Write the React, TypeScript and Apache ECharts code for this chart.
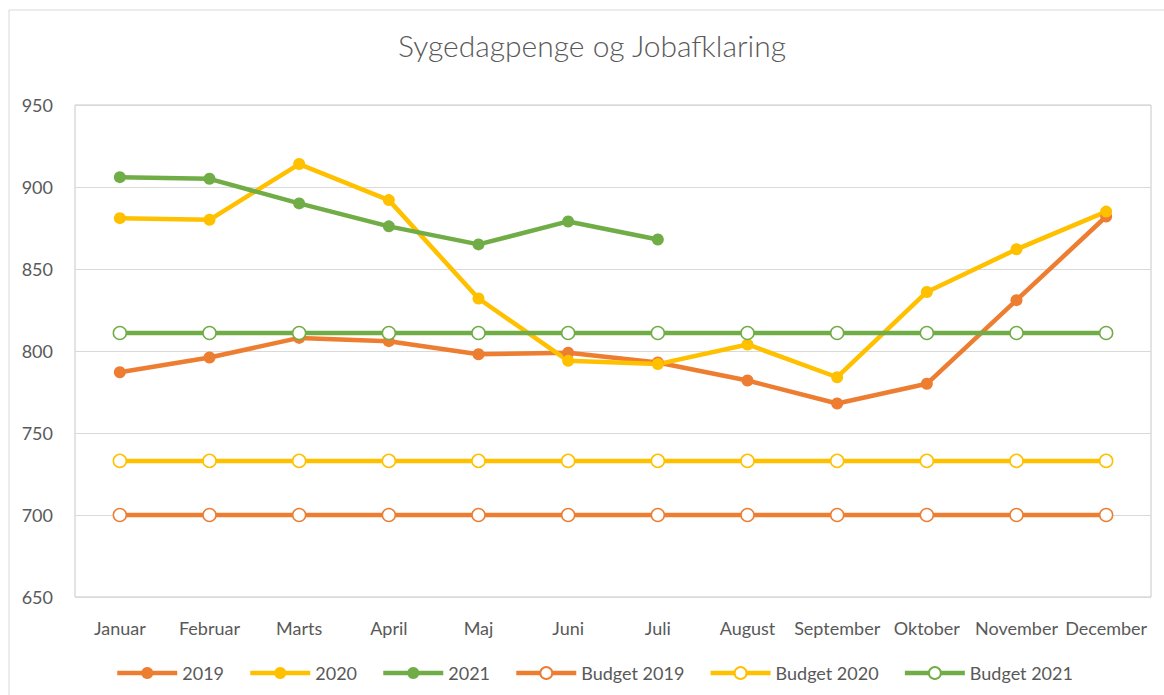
import React, { useEffect, useRef } from "react";
import * as echarts from "echarts";

const months = ["Januar", "Februar", "Marts", "April", "Maj", "Juni", "Juli", "August", "September", "Oktober", "November", "December"];
const s2019 = [787, 796, 808, 806, 798, 799, 793, 782, 768, 780, 831, 882];
const s2020 = [881, 880, 914, 892, 832, 794, 792, 804, 784, 836, 862, 885];
const s2021 = [906, 905, 890, 876, 865, 879, 868];
const budget2019 = [700, 700, 700, 700, 700, 700, 700, 700, 700, 700, 700, 700];
const budget2020 = [733, 733, 733, 733, 733, 733, 733, 733, 733, 733, 733, 733];
const budget2021 = [811, 811, 811, 811, 811, 811, 811, 811, 811, 811, 811, 811];
const titleText = "Sygedagpenge og Jobafklaring";

const ORANGE = "#ED7D31";
const YELLOW = "#FFC000";
const GREEN = "#70AD47";
const TXT = "#595959";
const FONT = "Lato, 'Open Sans', sans-serif";

function solid(name: string, data: number[], color: string) {
  return {
    name,
    type: "line",
    data,
    symbol: "circle",
    symbolSize: 12,
    lineStyle: { color, width: 4.5 },
    itemStyle: { color, borderColor: color, borderWidth: 0 },
  };
}
function hollow(name: string, data: number[], color: string) {
  return {
    name,
    type: "line",
    data,
    symbol: "circle",
    symbolSize: 13,
    lineStyle: { color, width: 4.5 },
    itemStyle: { color: "#ffffff", borderColor: color, borderWidth: 1.5 },
  };
}

export default function App() {
  const ref = useRef<HTMLDivElement>(null);
  useEffect(() => {
    if (!ref.current) return;
    const chart = echarts.init(ref.current, null, { renderer: "svg" });
    chart.setOption({
      animation: false,
      backgroundColor: "#ffffff",
      textStyle: { fontFamily: FONT },
      graphic: [
        {
          type: "rect",
          silent: true,
          shape: { x: 9, y: 10, width: 1170, height: 700 },
          style: { fill: "none", stroke: "#d9d9d9", lineWidth: 1 },
          z: -10,
        },
        {
          type: "text",
          x: 592,
          y: 45,
          style: {
            text: titleText,
            fill: TXT,
            font: `300 30px ${FONT}`,
            textAlign: "center",
            textVerticalAlign: "middle",
          },
        },
      ],
      grid: {
        left: 75,
        top: 105,
        right: 13,
        bottom: 98,
        show: true,
        borderColor: "#c8c8c8",
        borderWidth: 1,
        backgroundColor: "transparent",
      },
      legend: {
        left: 110,
        top: 659,
        itemWidth: 60,
        itemHeight: 15,
        itemGap: 24,
        lineStyle: { width: 4.5 },
        textStyle: { color: TXT, fontSize: 18, fontFamily: FONT },
        data: ["2019", "2020", "2021", "Budget 2019", "Budget 2020", "Budget 2021"],
      },
      xAxis: {
        type: "category",
        data: months,
        boundaryGap: true,
        axisLine: { show: false },
        axisTick: { show: false },
        axisLabel: { color: TXT, fontSize: 18, margin: 22, interval: 0, fontFamily: FONT },
      },
      yAxis: {
        type: "value",
        min: 650,
        max: 950,
        interval: 50,
        axisLine: { show: false },
        axisTick: { show: false },
        axisLabel: { color: TXT, fontSize: 18, margin: 22, fontFamily: FONT },
        splitLine: { lineStyle: { color: "#d9d9d9", width: 1 } },
      },
      series: [
        solid("2019", s2019, ORANGE),
        solid("2020", s2020, YELLOW),
        solid("2021", s2021, GREEN),
        hollow("Budget 2019", budget2019, ORANGE),
        hollow("Budget 2020", budget2020, YELLOW),
        hollow("Budget 2021", budget2021, GREEN),
      ],
    });
    return () => chart.dispose();
  }, []);
  return (
    <div
      ref={ref}
      style={{ position: "fixed", left: 0, top: 0, width: 1164, height: 695, background: "#fff" }}
    />
  );
}
